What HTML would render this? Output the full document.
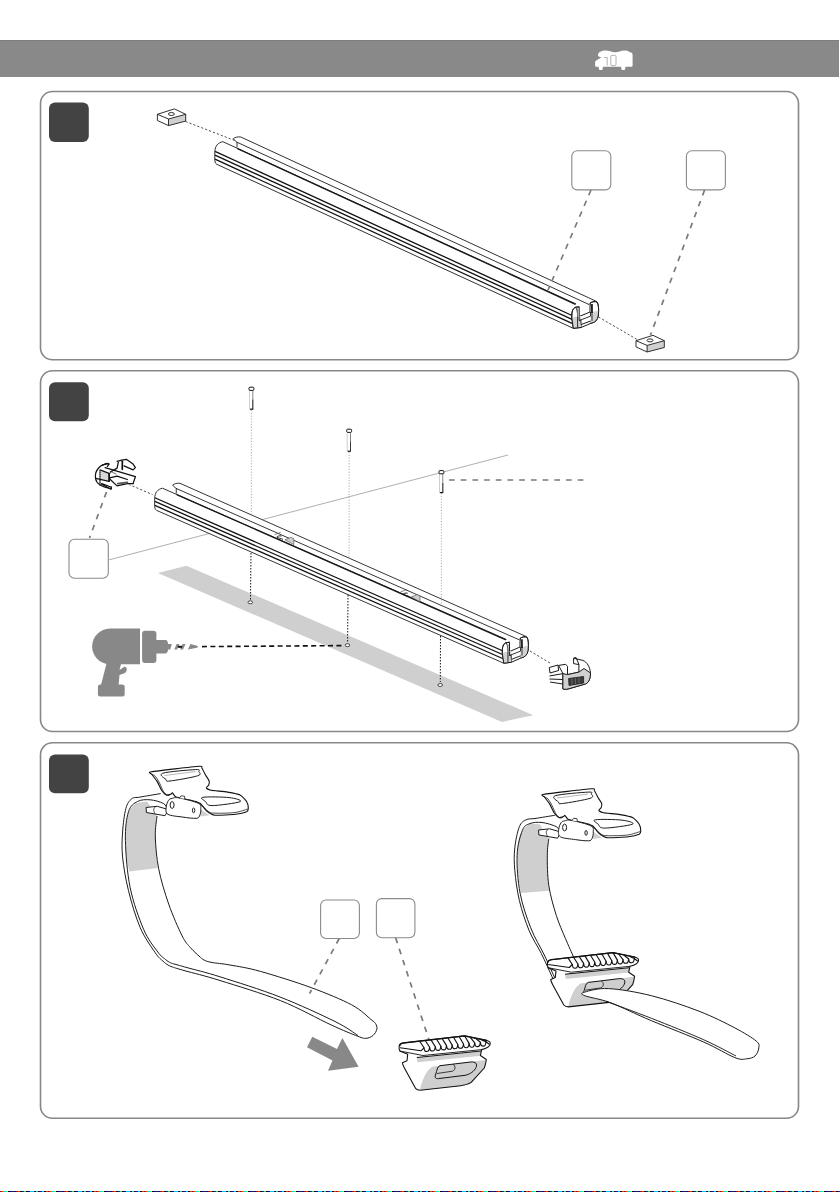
<!DOCTYPE html>
<html><head><meta charset="utf-8">
<style>
html,body{margin:0;padding:0;background:#fff;}
body{width:840px;height:1192px;overflow:hidden;position:relative;font-family:"Liberation Sans",sans-serif;}
svg{position:absolute;left:0;top:0;}
</style></head><body>
<svg width="840" height="1192" viewBox="0 0 840 1192">
<!-- header -->
<rect x="0" y="40" width="839" height="37" fill="#898989"/>
<rect x="0" y="40" width="839" height="1" fill="#7d7d7d"/>
<!-- camper -->
<path d="M598 55 C598 52 602 50.5 605 50.5 C609 50.5 612 52 615 52.3 C618 52.5 621 50.5 624 50.5 L627.5 50.8 C629 51.5 629 52.3 631 52.5 C632.3 52.7 632.6 54 632.6 55 L632.6 65.5 C632.6 66.5 632 66.8 631 66.8 L625.5 66.8 L625 69.5 C624.5 70.3 622 70.3 621.5 69.5 L621 66.8 L603 66.8 L602.5 69.5 C602 70.3 599.5 70.3 599 69.5 L598.5 66.8 L596.2 66.8 C595.4 66.8 595.1 66 595.1 65 L595.1 62.5 C595.1 61 596.5 60 598 59.5 L601.5 57.2 C599 57 598 56.5 598 55 Z" fill="#fff"/>
<path d="M604 57.6 L607.2 57.4 L607.2 65.6" fill="none" stroke="#9a9a9a" stroke-width="0.75"/><rect x="610.8" y="55.4" width="5.2" height="10.2" rx="1.2" fill="none" stroke="#9a9a9a" stroke-width="0.75"/>
<!-- panels -->
<g fill="none" stroke="#878787" stroke-width="1.6">
<rect x="40.5" y="91.5" width="758" height="268.3" rx="12"/>
<rect x="40.5" y="370.7" width="758" height="360.8" rx="12"/>
<rect x="40.5" y="742.8" width="758" height="375.5" rx="12"/>
</g>
<g fill="#434343">
<rect x="49" y="102.5" width="39.8" height="39.5" rx="6"/>
<rect x="49" y="382.2" width="39.8" height="39.1" rx="6"/>
<rect x="49" y="754.4" width="39.8" height="38.8" rx="6"/>
</g>
<!-- label boxes -->
<g fill="#fff" stroke="#8a8a8a" stroke-width="1.1">
<rect x="571.8" y="150.7" width="39" height="39.2" rx="5.5"/>
<rect x="686.4" y="150.7" width="39" height="39.2" rx="5.5"/>
<rect x="69" y="539.3" width="39.3" height="39" rx="5.5"/>
<rect x="320.6" y="900" width="38.8" height="38.5" rx="5.5"/>
<rect x="376.4" y="898.6" width="38.5" height="39.1" rx="5.5"/>
</g>

<!-- rail 1 -->
<defs>
<g id="rail">
<path d="M233.3 138.7 C235 137.2 238 136.6 240.8 137 L596.7 301.5 C598.6 304 599 310 598.2 316 C597.6 320 595 322.6 591.2 323.2 L581 327.5 L573.3 328.3 L218.3 165 C216 164.3 215 163 214.8 160 L214.8 152 C215 146 218 142.5 222.9 141.7 Z" fill="#fff"/>
<g fill="none" stroke="#1a1a1a" stroke-width="0.9">
<path d="M222.9 141.7 C218 142.5 215 146 214.8 152 L214.8 160 C215 163 216 164.3 218.3 165 L573.3 328.3"/>
<path d="M222.9 141.7 L576 304"/>
<path d="M233.3 138.7 C235 137.2 238 136.6 240.8 137 L596.7 301.5"/>
<path d="M233.3 138.7 L236.5 142 L589 304.5"/>
<path d="M237 142 L237 147.5"/>
</g>
<g fill="none" stroke="#111" stroke-width="1.3">
<path d="M215 151.3 L572 315.5"/>
<path d="M215 155.1 L572 319.3"/>
<path d="M215 159.2 L572 323.4"/>
</g>
<path d="M237.5 148.6 L575.5 304.3" stroke="#1a1a1a" stroke-width="1.35" fill="none"/>
<path d="M573.3 328.3 L571.8 318 C571.6 312 572.5 308.5 575.5 307.3 L579.2 306.8 L579.2 316.5 L590 312 L590 303.2 C592 301.6 595 301.2 597 302 C598.6 304 599 310 598.2 316 C597.6 320 595 322.6 591.2 323.2 L591.2 320.8 L581 324.6 L581 327.5 Z" fill="#fff" stroke="#1a1a1a" stroke-width="1"/>
<path d="M571.9 317.5 L581 316 L581 327.5 L573.3 328.3 Z M590.5 312.5 L598.6 310.5 C598.4 313 598.2 315 598 316 C597.6 320 595 322.6 591.2 323.2 L590.5 321 Z" fill="#d2d2d2"/>
<path d="M573.3 328.3 L571.8 318 C571.6 312 572.5 308.5 575.5 307.3 L579.2 306.8 M590 303.2 C592 301.6 595 301.2 597 302 C598.6 304 599 310 598.2 316 C597.6 320 595 322.6 591.2 323.2 L581 327.5 L573.3 328.3" fill="none" stroke="#1a1a1a" stroke-width="1"/>
<path d="M575.5 307.3 C577 309 577.6 312 577.6 316.5 L577.6 327.6 M579.2 316.5 L579.2 320.5 L590.5 316.2 L590.5 312 M579.2 320.5 L581 320.2 L581 324.6 M590 303.2 C591.5 305 592 309 592 315.8 L592 320.8" fill="none" stroke="#1a1a1a" stroke-width="0.9"/>
<path d="M577.6 316.5 L577.6 308.5" stroke="#777" stroke-width="1"/>
<path d="M592 304 L592 313" stroke="#111" stroke-width="1.6"/>
</g>
</defs>
<use href="#rail"/>

<!-- nuts -->
<defs>
<g id="nut">
<path d="M157.4 114.3 L174.4 108.9 L185.7 114.3 L168.5 119 Z" fill="#fff"/>
<path d="M157.4 114.3 L168.5 119 L168.5 125.6 L157.4 120.5 Z" fill="#fff"/>
<path d="M168.5 119 L185.7 114.3 L185.7 121.1 L168.5 125.6 Z" fill="#d0d0d0"/>
<path d="M157.4 114.3 L174.4 108.9 L185.7 114.3 L185.7 121.1 L168.5 125.6 L157.4 120.5 Z M157.4 114.3 L168.5 119 L185.7 114.3 M168.5 119 L168.5 125.6" fill="none" stroke="#1a1a1a" stroke-width="0.9" stroke-linejoin="round"/>
<ellipse cx="171.4" cy="114" rx="3" ry="1.5" fill="none" stroke="#1a1a1a" stroke-width="0.9"/>
</g>
</defs>
<use href="#nut"/>
<use href="#nut" transform="translate(478.6 226.4) scale(1)"/>
<g fill="none" stroke="#222" stroke-width="0.8" stroke-dasharray="2.2 2">
<path d="M185.5 121.5 L236 141"/>
<path d="M598.5 317 L638 340"/>
</g>
<g fill="none" stroke="#7a7a7a" stroke-width="1.7" stroke-dasharray="5.7 6">
<path d="M591 190 L548 290"/>
<path d="M704.6 190 L650.5 335"/>
</g>
<!-- gray band -->
<polygon points="157.9,572.9 186.4,565.7 533.3,715.2 501.9,721.9" fill="#cfcfcf"/>

<!-- panel 2 -->
<path d="M108.5 560 L508 455" stroke="#9a9a9a" stroke-width="0.8" fill="none"/>
<use href="#rail" transform="matrix(0.9737 -0.0192 0.0003 0.9739 -54.55 354.5)"/>
<!-- slots -->
<defs><g id="slot">
<path d="M284.9 539.8 L290.8 537.4 L293.8 538.6 L293.8 544.5 Z" fill="#cfcfcf" stroke="#444" stroke-width="0.6"/>
<path d="M283 539.3 C280.5 538.6 278 538 277 537.2 C276.5 536.3 279 535.6 281.5 536" fill="none" stroke="#111" stroke-width="0.9"/>
<path d="M274.5 534.6 L278.5 533.2 L280.8 532.2" fill="none" stroke="#555" stroke-width="0.7"/>
</g></defs>
<use href="#slot"/>
<use href="#slot" transform="translate(126.2 57.2)"/>
<!-- screws -->
<defs>
<g id="screw">
<rect x="-2.2" y="2.5" width="4.2" height="19" fill="#fff"/>
<path d="M-1.9 3 L-1.9 21" stroke="#c8c8c8" stroke-width="0.9"/>
<path d="M1.4 3 L1.4 21.5" stroke="#777" stroke-width="0.9"/>
<path d="M1.4 12 L1.4 21.5" stroke="#333" stroke-width="0.9"/>
<path d="M-1.6 21.6 L1.8 21.6" stroke="#111" stroke-width="1.2"/>
<rect x="-2.4" y="-0.4" width="4.9" height="3.2" rx="1" fill="#fff" stroke="#111" stroke-width="1"/>
</g>
</defs>
<use href="#screw" transform="translate(251.4 387.6)"/>
<use href="#screw" transform="translate(349.1 429.6)"/>
<use href="#screw" transform="translate(441.4 471)"/>
<g fill="none" stroke="#9a9a9a" stroke-width="0.8" stroke-dasharray="1.2 1.6">
<path d="M251.4 410 L251.4 514"/>
<path d="M349.1 452 L349.1 559"/>
<path d="M441.4 493 L441.4 604"/>
</g>
<g fill="none" stroke="#111" stroke-width="1" stroke-dasharray="1.5 1.5">
<path d="M251 553 L250.5 600"/>
<path d="M348 595 L347.6 642"/>
<path d="M440.5 636 L440.3 682"/>
</g>
<g fill="#fff" stroke="#222" stroke-width="0.8">
<ellipse cx="250.3" cy="602.3" rx="2.3" ry="1.5"/>
<ellipse cx="347.5" cy="645.2" rx="2.3" ry="1.5"/>
<ellipse cx="440.2" cy="685" rx="2.3" ry="1.5"/>
</g>
<path d="M449 480 L585 480" stroke="#7a7a7a" stroke-width="1.7" stroke-dasharray="5.7 6" fill="none"/>
<path d="M106.5 492 L89.5 538" stroke="#7a7a7a" stroke-width="1.7" stroke-dasharray="5.7 6" fill="none"/>
<g fill="none" stroke="#222" stroke-width="0.8" stroke-dasharray="2.2 2">
<path d="M128.6 484.3 L152.5 494.6"/>
<path d="M530 651 L550 663"/>
</g>
<!-- end cap 1 -->
<g stroke="#111" stroke-width="1.25" fill="none" stroke-linejoin="round" stroke-linecap="round">
<path d="M108.6 463.6 L117.1 461.3 L126.3 459.3 L133.1 464.1 L135.4 467.6 L135.4 476.7 L133.1 483.6 L127.4 485 L117.1 486.8 L111.4 488.7 C104 488.5 98 485.5 96 480 C94.5 475 96 469 100.6 465.9 Z" fill="#fff" stroke="none"/>
<path d="M101 471 L108.5 474 L108.5 480.5 L101 479 Z" fill="#d8d8d8" stroke="none"/>
<path d="M108.6 463.6 C104 464 101 465 98.6 468 C96 471 95.2 474 95.4 477 C95.5 480 96.5 483 100.6 485.3 C103 486.8 106 487.8 111.4 488.7"/>
<path d="M100.6 470.1 L109.7 473.6 M95.8 478.4 L109.1 481.3 M101.7 483.6 L110.9 487"/>
<path d="M109.1 474 L109.1 481" stroke-width="1.8"/>
<path d="M100 470 L100 485" stroke-dasharray="1 1"/>
<path d="M102 465.3 L106.9 463.3 L109.1 464.1 L107.4 466.4"/>
<path d="M105.1 467.6 L135.4 476.7 L133.1 483.6"/>
<path d="M117.1 461.3 L121.7 460.1 L126.3 459.3 L133.1 464.1 L135.4 467.6 L133.1 469.9 L124 465.9"/>
<path d="M122.3 461.3 L122.3 469.3" stroke-width="1.7"/>
<path d="M118.3 462.4 L117.1 468.1 L110.3 472.1"/>
<path d="M109.7 477.9 L117.1 476.1 L127.4 479.5 M109.7 479 L117.1 485.9 L127.4 483.6 L133.1 483.6"/>
<path d="M117.7 483.6 L127.4 482.4" stroke="#555" stroke-width="1.6"/>
<path d="M101.7 484.1 L110.9 489.3 L111.4 487"/>
<path d="M112 472 L116 474" stroke="#888" stroke-width="1.2"/>
</g>
<!-- end cap 2 -->
<g stroke="#1a1a1a" stroke-width="1" stroke-linejoin="round">
<path d="M562.9 673.6 L562.9 688.9 C564 689.5 566 689.4 568 689 L585.7 683.9 C589 682.5 590.5 678 590.5 673 C590 667 587 662 582.9 660.4 L577 659 L573.6 658.2 L573.6 663.6 L578.9 664.6 L578.9 672.1 L567.5 674.6 L567.5 666.4 L565.7 664.3 L558.6 665.4 Z" fill="#fff"/>
<path d="M562.9 673.6 L567.5 674.6 L578.9 672.1 L584 668.5 L590.5 673 C590.5 678 589 682.5 585.7 683.9 L568 689 C566 689.4 564 689.5 562.9 688.9 Z" fill="#d0d0d0"/>
<path d="M568.6 678.5 L583.6 676.5 L583.6 683 L569 685.5 Z" fill="#3a3a3a" stroke-width="0.8"/><path d="M572 678.5 L572 684.5 M575.5 678 L575.5 684 M579 677.5 L579 683.5" stroke="#888" stroke-width="0.6"/>
<path d="M549.3 667.5 L558 665 L558.6 670.5 L550 673 Z M549.5 676 L562.9 673.6 M549.5 679 L562.9 679.5 M550 682 L562.9 684" fill="#fff"/>
<path d="M573.6 658.2 L576 657.5 L579 664.6" fill="none"/>
</g>
<!-- drill -->
<g fill="#888">
<path d="M110 628.6 L140 628.6 L140 664.3 L110 664.3 C100 664.3 92.1 656 92.1 646.5 C92.1 637 100 628.6 110 628.6 Z"/>
<rect x="142.1" y="630.7" width="14.3" height="32.2" rx="3"/>
<path d="M155 640 L165.5 640 C167 640 168 641.5 168 643.9 L171.8 643.9 L170.2 649.6 L168 649.6 C168 652 167 653.4 165.5 653.4 L155 653.4 Z"/>
<path d="M106.4 664 L121 664 L119.5 670 L124 667 C127 666 128 671 125 673 L119.5 675 L118.6 685 L101 685 Z"/>
<rect x="97.9" y="684.5" width="26.8" height="11.9" rx="2.5"/>
<path d="M174.3 649.6 L176.6 643.9 L179.4 643.9 L177.1 649.6 Z M180 649.6 L182.6 643.9 L185.6 643.9 L183 649.6 Z"/>
<path d="M187.9 649.6 L190.4 643.9 L197 645.8 C198.2 646.3 198.2 647.3 197 647.8 Z"/>
</g>
<path d="M177.9 646.8 L182.1 646.8" stroke="#111" stroke-width="2"/>
<line x1="202" y1="646.6" x2="343" y2="645.6" stroke="#111" stroke-width="1.6" stroke-dasharray="5 3.4"/>

<!--P3START-->
<defs>
<g id="buckle">
<path d="M151.4 771.8 C156.1 771.0 194.0 766.7 199.0 766.3 C204.0 765.9 201.2 767.1 201.8 768.0 C202.5 768.9 204.8 773.7 205.5 775.0 C206.2 776.3 208.9 780.0 209.2 781.0 C209.5 782.0 208.9 784.5 208.6 785.2 C208.3 785.9 206.1 787.3 206.3 787.8 C206.5 788.3 208.9 789.9 211.0 790.3 C213.1 790.7 224.6 791.6 227.5 792.1 C230.4 792.6 238.1 794.0 240.0 795.0 C241.9 796.0 245.9 800.4 246.7 801.7 C247.5 803.0 248.3 807.3 248.3 808.3 C248.3 809.3 247.9 811.1 246.7 811.7 C245.4 812.3 239.0 813.9 235.8 814.2 C232.6 814.6 217.9 815.5 215.0 815.2 C212.1 814.9 208.2 812.2 206.7 811.0 C205.2 809.8 201.7 804.4 200.0 803.3 C198.3 802.2 192.4 800.6 190.0 800.0 C187.6 799.4 177.8 797.7 176.0 797.0 C174.2 796.3 173.0 793.2 172.5 792.9 C172.0 792.6 171.3 794.0 170.7 794.2 C170.1 794.4 167.3 795.4 166.4 795.0 C165.5 794.6 162.3 791.4 161.4 790.0 C160.5 788.6 158.1 783.0 157.1 781.4 C156.1 779.8 152.4 775.3 151.8 774.3 C151.2 773.3 146.7 772.6 151.4 771.8 Z" fill="#fff" stroke="#111" stroke-width="1.1" stroke-linejoin="round"/>
<path d="M151.8 774.3 C152.4 774.7 154.2 775.0 155.5 776.5 C156.8 778.0 158.2 780.5 159.5 783.0 C160.8 785.5 162.1 789.4 163.5 791.5 C164.9 793.6 166.5 795.3 168.0 795.5 C169.5 795.7 171.8 793.3 172.5 792.9" fill="none" stroke="#1a1a1a" stroke-width="0.8"/>
<path d="M162.9 773.2 C167.8 771.6 189.7 769.9 195.7 769.6 C201.7 769.3 198.5 770.5 198.8 771.5 C199.1 772.5 202.4 774.2 197.6 775.8 C192.8 777.4 175.3 780.4 170.0 781.0 C164.7 781.6 167.2 780.8 166.0 779.5 C164.8 778.2 158.0 774.9 162.9 773.2 Z" fill="#fff" stroke="#1c1c1c" stroke-width="1"/>
<path d="M164.5 775.5 L195.5 771.6" stroke="#999" stroke-width="0.7"/>
<path d="M203.0 797.3 C206.9 796.6 223.0 796.9 229.2 797.6 C235.4 798.3 242.9 800.4 240.0 801.7 C237.1 803.0 217.8 805.6 212.0 805.6 C206.2 805.6 207.0 802.9 205.5 801.5 C204.0 800.1 199.1 797.9 203.0 797.3 Z" fill="#fff" stroke="#1c1c1c" stroke-width="1"/>
<path d="M196.0 801.5 C197.2 802.3 200.8 804.8 203.0 806.5 C205.2 808.2 206.8 810.9 209.0 812.0 C211.2 813.1 211.7 813.1 216.0 813.2 C220.3 813.3 229.7 813.2 235.0 812.5 C240.3 811.8 245.7 809.6 247.8 809.0" fill="none" stroke="#1a1a1a" stroke-width="0.8"/>
<path d="M201 809.5 L209.5 815.2 L200.5 816.5 Z" fill="#d0d0d0"/>
<path d="M146.1 807.5 L157.1 806.3 L167.5 809.3 L167.5 811.4 L165 815.7 L146.4 812.5 Z" fill="#fff" stroke="#1c1c1c" stroke-width="1" stroke-linejoin="round"/>
<path d="M155.5 807 C153 808 153.5 811.5 155 813.5" fill="none" stroke="#1a1a1a" stroke-width="0.8"/>
<path d="M168.6 800.2 C169.6 798.8 170.3 798.8 172.0 798.4 C173.7 798.0 174.5 797.1 178.9 797.9 C183.3 798.7 194.7 801.4 198.3 803.3 C202.0 805.2 200.6 807.1 200.8 809.2 C201.0 811.3 200.3 814.5 199.5 816.0 C198.7 817.5 198.8 818.1 196.0 818.3 C193.2 818.5 187.6 817.8 182.9 817.1 C178.2 816.4 170.7 816.0 167.9 814.3 C165.1 812.6 166.1 809.4 166.2 807.0 C166.3 804.6 167.6 801.6 168.6 800.2 Z" fill="#fff" stroke="#1c1c1c" stroke-width="1" stroke-linejoin="round"/>
<ellipse cx="172.1" cy="805" rx="2" ry="3.4" fill="#fff" stroke="#1c1c1c" stroke-width="1"/>
<ellipse cx="193.6" cy="810.4" rx="1.2" ry="2.4" fill="#fff" stroke="#1c1c1c" stroke-width="1"/>
<path d="M179.5 798 L181 795.8 L184.5 796.2 L184.8 799" fill="#fff" stroke="#1a1a1a" stroke-width="0.8"/>
</g>
</defs>
<g id="strap1">
<path d="M160.7 793.6 C156.1 791.6 144.8 796.2 140.0 797.1 C135.2 798.0 134.0 796.9 131.7 798.8 C129.3 800.7 127.4 803.0 125.9 808.5 C124.4 814.0 123.1 823.9 122.6 832.0 C122.0 840.1 121.6 847.3 122.6 857.1 C123.6 866.9 125.6 879.0 128.5 890.7 C131.4 902.5 135.7 917.2 140.2 927.6 C144.7 938.0 151.5 947.2 155.3 952.8 C159.1 958.4 160.9 959.2 163.0 961.2 C165.1 963.2 166.4 964.0 168.0 965.0 C169.6 966.0 169.7 966.0 172.5 967.0 C175.3 968.0 177.1 968.5 185.0 970.8 C192.9 973.0 204.1 975.5 220.0 980.5 C235.9 985.5 262.1 993.3 280.7 1000.7 C299.2 1008.1 318.5 1019.1 331.3 1025.0 C344.1 1030.9 351.9 1034.0 357.7 1036.2 C363.5 1038.4 363.4 1038.4 366.0 1038.3 C368.6 1038.2 371.2 1037.0 373.0 1035.5 C374.8 1034.0 376.5 1031.1 376.9 1029.1 C377.3 1027.1 376.5 1025.1 375.5 1023.5 C374.5 1021.9 375.0 1022.6 371.0 1019.5 C367.0 1016.4 361.6 1010.1 351.6 1004.8 C341.6 999.5 326.3 993.2 311.1 987.6 C295.9 982.0 274.0 975.2 260.5 971.4 C247.0 967.6 238.1 966.5 230.0 965.0 C221.9 963.5 216.3 963.3 212.0 962.5 C207.7 961.7 206.2 961.1 204.0 960.0 C201.8 958.9 201.2 958.0 199.0 956.0 C196.8 954.0 193.4 951.1 190.6 947.8 C187.8 944.5 185.8 943.3 182.2 936.0 C178.5 928.7 172.6 915.3 168.7 904.1 C164.8 892.9 160.9 880.1 158.7 868.9 C156.5 857.7 155.6 845.8 155.3 837.0 C155.0 828.2 156.2 820.2 157.0 816.0 C157.8 811.8 158.2 813.1 160.0 812.0 C161.8 810.9 167.4 812.4 167.5 809.3 C167.6 806.2 165.3 795.6 160.7 793.6 Z" fill="#fff" stroke="none"/>
<path d="M136 803 L147 801.5 L157 816 C155.5 826 155 835 155.3 840 C155.8 850 156.5 860 157.8 868 L129.3 871.4 C126.5 860 125.5 850 125.4 840.4 C125.5 825 127 815 131 808 Z" fill="#cfcfcf"/>
<path d="M160.7 793.6 C157.2 794.2 144.8 796.2 140.0 797.1 C135.2 798.0 134.0 796.9 131.7 798.8 C129.3 800.7 127.4 803.0 125.9 808.5 C124.4 814.0 123.1 823.9 122.6 832.0 C122.0 840.1 121.6 847.3 122.6 857.1 C123.6 866.9 125.6 879.0 128.5 890.7 C131.4 902.5 135.7 917.2 140.2 927.6 C144.7 938.0 151.5 947.2 155.3 952.8 C159.1 958.4 160.9 959.2 163.0 961.2 C165.1 963.2 166.4 964.0 168.0 965.0 C169.6 966.0 169.7 966.0 172.5 967.0 C175.3 968.0 177.1 968.5 185.0 970.8 C192.9 973.0 204.1 975.5 220.0 980.5 C235.9 985.5 262.1 993.3 280.7 1000.7 C299.2 1008.1 318.5 1019.1 331.3 1025.0 C344.1 1030.9 351.9 1034.0 357.7 1036.2 C363.5 1038.4 363.4 1038.4 366.0 1038.3 C368.6 1038.2 371.2 1037.0 373.0 1035.5 C374.8 1034.0 376.5 1031.1 376.9 1029.1 C377.3 1027.1 376.5 1025.1 375.5 1023.5 C374.5 1021.9 371.8 1020.2 371.0 1019.5" fill="none" stroke="#1c1c1c" stroke-width="1"/>
<path d="M371.0 1019.5 C367.8 1017.0 361.6 1010.1 351.6 1004.8 C341.6 999.5 326.3 993.2 311.1 987.6 C295.9 982.0 274.0 975.2 260.5 971.4 C247.0 967.6 238.1 966.5 230.0 965.0 C221.9 963.5 216.3 963.3 212.0 962.5 C207.7 961.7 206.2 961.1 204.0 960.0 C201.8 958.9 201.2 958.0 199.0 956.0 C196.8 954.0 193.4 951.1 190.6 947.8 C187.8 944.5 185.8 943.3 182.2 936.0 C178.5 928.7 172.6 915.3 168.7 904.1 C164.8 892.9 160.9 880.1 158.7 868.9 C156.5 857.7 155.6 845.8 155.3 837.0 C155.0 828.2 156.7 819.5 157.0 816.0" fill="none" stroke="#1c1c1c" stroke-width="1"/>
<path d="M167.5 809.3 C166.8 808.3 166.4 805.1 163.5 803.5 C160.6 801.9 154.3 800.1 150.0 799.8 C145.7 799.5 141.1 799.5 137.5 801.5 C133.9 803.5 130.5 805.3 128.5 811.8 C126.5 818.3 125.1 827.8 125.4 840.4 C125.7 853.0 127.1 872.5 130.1 887.3 C133.1 902.1 139.0 918.5 143.6 929.3 C148.2 940.1 154.2 947.0 157.8 952.0 C161.5 957.0 163.4 957.7 165.5 959.5 C167.6 961.3 168.9 962.0 170.5 962.8 C172.1 963.6 172.2 963.4 175.0 964.2 C177.8 965.0 179.5 965.5 187.0 967.6 C194.5 969.7 204.5 971.9 220.0 976.8 C235.5 981.7 260.8 989.5 280.0 997.0 C299.2 1004.5 322.0 1015.1 335.0 1021.5 C348.0 1027.9 354.2 1033.2 358.0 1035.5" fill="none" stroke="#1c1c1c" stroke-width="1"/>
</g>
<use href="#buckle"/>
<g fill="none" stroke="#7a7a7a" stroke-width="1.7" stroke-dasharray="5.7 6">
<path d="M339.2 938.5 L309.6 993.5"/>
<path d="M395.6 937.7 L428.8 1039.3"/>
</g>
<path d="M307 1047.2 L312.3 1036.7 L337 1049 L342.4 1038 L358.6 1066.8 L328 1070.7 L332.5 1060.5 Z" fill="#888"/>

<defs><g id="cleat">
<path d="M399.2 1045.7 C399.5 1044 401 1043.3 403.1 1043 L464.6 1035.9 L486.9 1040.5 C489 1041 490.5 1042.5 490.2 1044 C490 1046.5 486 1048.5 481.7 1049.6 L480.4 1055.5 L486.3 1059.5 C486 1062 485.5 1065 484.3 1068 L471.2 1082.4 C468 1084.5 464 1085.3 460.7 1085.7 L420.1 1090.2 C418 1090.2 416.5 1089.5 415.5 1088.3 L404.4 1068 C403.3 1066 402.5 1064 402.4 1062.7 L407 1060.8 L407.7 1054.2 L399.8 1051 C399 1049.5 399 1047.5 399.2 1045.7 Z" fill="#fff"/>
<path d="M416.8 1057.5 L481 1051 L481 1055.7 L417.5 1062.3 Z" fill="#cfcfcf"/>
<path d="M431.9 1066.7 L485.6 1060.1 C485.5 1063 485 1065.5 484.3 1068 L471.2 1082.4 C468 1084.5 464 1085.3 460.7 1085.7 L420.1 1090.2 C420.5 1085 424 1076 428 1070.6 Z" fill="#cfcfcf"/>
<path d="M481.7 1049.6 L423 1055.5 L399.8 1051" fill="none" stroke="#111" stroke-width="0.9"/>
<path d="M399.2 1045.7 C399.5 1044 401 1043.3 403.1 1043 L464.6 1035.9 L486.9 1040.5 C489 1041 490.5 1042.5 490.2 1044 C490 1046.5 486 1048.5 481.7 1049.6 L480.4 1055.5 L486.3 1059.5 C486 1062 485.5 1065 484.3 1068 L471.2 1082.4 C468 1084.5 464 1085.3 460.7 1085.7 L420.1 1090.2 C418 1090.2 416.5 1089.5 415.5 1088.3 L404.4 1068 C403.3 1066 402.5 1064 402.4 1062.7 L407 1060.8 L407.7 1054.2 L399.8 1051 C399 1049.5 399 1047.5 399.2 1045.7 Z" fill="none" stroke="#111" stroke-width="1.1" stroke-linejoin="round"/>
<path d="M416.8 1057.5 L481 1051" stroke="#111" stroke-width="1"/>
<path d="M440 1065.7 L470.5 1062 C476 1061.5 477.5 1064 476 1067.5 C474.5 1071 470 1074.5 465 1075.3 L438.5 1078.6 C435 1079 434.5 1077 435.8 1074 C437 1071 437 1066.5 440 1065.7 Z" fill="#cfcfcf" stroke="#111" stroke-width="1"/>
<path d="M453 1064.3 C456 1066 455.5 1070 452.5 1071.2 L437 1073.5" fill="none" stroke="#111" stroke-width="0.8"/>
<path d="M420.0 1041.7 L424.0 1047.8 M425.6 1041.0 L429.6 1047.3 M431.3 1040.4 L435.3 1046.7 M436.9 1039.7 L440.9 1046.2 M442.5 1039.1 L446.5 1045.6 M448.2 1038.5 L452.2 1045.1 M453.8 1037.8 L457.8 1044.5 M459.5 1037.2 L463.5 1044.0 M465.1 1036.7 L469.1 1043.4 M470.7 1037.8 L474.7 1042.9 M476.4 1039.0 L480.4 1042.3 M482.0 1040.1 L486.0 1041.8" stroke="#111" stroke-width="1.15" fill="none" stroke-linecap="round"/>
<path d="M400 1047.8 L421 1050.8 L424.0 1047.8 C424.6 1051.0 424.8 1051.5 426.8 1051.5 C428.8 1051.5 429.0 1050.5 429.6 1047.3 C430.2 1050.5 430.5 1051.0 432.5 1051.0 C434.5 1051.0 434.7 1049.9 435.3 1046.7 C435.9 1049.9 436.1 1050.4 438.1 1050.4 C440.1 1050.4 440.3 1049.4 440.9 1046.2 C441.5 1049.4 441.7 1049.9 443.7 1049.9 C445.7 1049.9 445.9 1048.8 446.5 1045.6 C447.1 1048.8 447.4 1049.3 449.4 1049.3 C451.4 1049.3 451.6 1048.3 452.2 1045.1 C452.8 1048.3 453.0 1048.8 455.0 1048.8 C457.0 1048.8 457.2 1047.7 457.8 1044.5 C458.4 1047.7 458.6 1048.3 460.6 1048.3 C462.6 1048.3 462.9 1047.2 463.5 1044.0 C464.1 1047.2 464.3 1047.7 466.3 1047.7 C468.3 1047.7 468.5 1046.6 469.1 1043.4 C469.7 1046.6 469.9 1047.2 471.9 1047.2 C473.9 1047.2 474.1 1046.1 474.7 1042.9 C475.3 1046.1 475.5 1046.6 477.5 1046.6 C479.5 1046.6 479.8 1045.5 480.4 1042.3 C481.0 1045.5 481.2 1046.1 483.2 1046.1 C485.2 1046.1 485.4 1045.0 486.0 1041.8 L489.5 1044.5" stroke="#111" stroke-width="1.1" fill="none" stroke-linejoin="round"/>
<path d="M399.5 1046 C400 1043.8 401.5 1043.2 403.1 1043 L464.6 1035.9 L486.9 1040.5" stroke="#111" stroke-width="1.3" fill="none"/>
</g></defs>
<use href="#cleat"/>
<path d="M554.8 815.3 C551.3 813.7 539.8 817.8 535.0 818.5 C530.2 819.2 528.7 818.4 526.1 819.8 C523.5 821.1 521.3 821.9 519.4 826.6 C517.5 831.3 515.6 840.5 514.8 847.8 C514.0 855.1 514.0 861.6 514.8 870.4 C515.6 879.2 517.0 890.5 519.4 900.6 C521.8 910.7 525.6 922.0 529.2 930.8 C532.9 939.6 537.5 945.9 541.3 953.5 C545.1 961.1 549.0 970.1 551.8 976.2 C554.6 982.3 554.0 988.5 557.9 990.0 C561.8 991.5 572.4 990.5 575.0 985.0 C577.6 979.5 575.3 965.1 573.7 957.3 C572.1 949.5 568.3 945.3 565.4 938.4 C562.5 931.5 559.2 924.5 556.4 915.7 C553.6 906.9 550.3 895.6 548.8 885.5 C547.3 875.4 547.3 863.1 547.3 855.3 C547.3 847.5 548.0 842.6 548.8 838.7 C549.6 834.8 550.8 833.8 552.0 832.0 C553.2 830.2 555.5 830.8 556.0 828.0 C556.5 825.2 558.3 816.9 554.8 815.3 Z" fill="#fff"/>
<path d="M529 823.8 L539.7 824.2 L548.8 838.7 C547.6 850 547.2 858 547.3 863 C547.5 872 548 882 549.6 890.8 L520.9 893.1 C518.2 880 517.2 868 517.1 855.3 C517.5 843 519 835 522.4 830.4 Z" fill="#cfcfcf"/>
<path d="M554.8 815.3 C551.5 815.8 539.8 817.8 535.0 818.5 C530.2 819.2 528.7 818.4 526.1 819.8 C523.5 821.1 521.3 821.9 519.4 826.6 C517.5 831.3 515.6 840.5 514.8 847.8 C514.0 855.1 514.0 861.6 514.8 870.4 C515.6 879.2 517.0 890.5 519.4 900.6 C521.8 910.7 525.6 922.0 529.2 930.8 C532.9 939.6 537.5 945.9 541.3 953.5 C545.1 961.1 549.0 970.1 551.8 976.2 C554.6 982.3 556.9 987.7 557.9 990.0" fill="none" stroke="#1c1c1c" stroke-width="1"/>
<path d="M560.0 831.5 C559.3 830.7 559.0 828.0 556.0 826.5 C553.0 825.0 546.4 823.0 542.0 822.5 C537.6 822.0 533.2 822.3 529.9 823.6 C526.6 824.9 524.5 825.1 522.4 830.4 C520.3 835.7 517.5 844.8 517.1 855.3 C516.7 865.8 517.8 881.0 520.1 893.1 C522.4 905.2 526.7 917.5 530.7 927.8 C534.7 938.1 540.5 947.2 544.3 955.0 C548.1 962.8 551.4 970.7 553.3 974.7 C555.2 978.7 555.1 978.3 555.5 979.0" fill="none" stroke="#1c1c1c" stroke-width="1"/>
<path d="M573.7 957.3 C572.3 954.1 568.3 945.3 565.4 938.4 C562.5 931.5 559.2 924.5 556.4 915.7 C553.6 906.9 550.3 895.6 548.8 885.5 C547.3 875.4 547.3 863.1 547.3 855.3 C547.3 847.5 548.5 841.5 548.8 838.7" fill="none" stroke="#1c1c1c" stroke-width="1"/>
<use href="#buckle" transform="translate(392.5 22.5)"/>
<use href="#cleat" transform="translate(148.3 -83.3)"/>
<path d="M584.8 992.1 C588.8 990.9 597.5 988.0 608.6 988.6 C619.7 989.2 636.3 991.9 651.4 995.7 C666.5 999.5 685.1 1005.8 699.0 1011.2 C712.9 1016.6 725.3 1022.9 734.8 1027.9 C744.3 1032.9 752.2 1037.7 756.2 1041.0 C760.2 1044.3 759.0 1045.5 758.8 1048.0 C758.6 1050.5 757.0 1054.2 755.0 1056.0 C753.0 1057.8 750.1 1058.5 746.7 1058.8 C743.3 1059.1 741.9 1060.4 734.8 1057.6 C727.6 1054.8 717.7 1048.2 703.8 1042.1 C689.9 1035.9 666.9 1027.2 651.4 1020.7 C635.9 1014.2 622.1 1007.1 611.0 1002.9 C599.9 998.7 589.2 997.5 584.8 995.7 C580.4 993.9 580.8 993.3 584.8 992.1 Z" fill="#fff" stroke="#1c1c1c" stroke-width="1" stroke-linejoin="round"/>
<path d="M606.0 1001.3 C613.6 1004.1 635.1 1011.9 651.4 1018.3 C667.7 1024.7 689.7 1033.5 703.8 1039.8 C717.9 1046.1 730.6 1053.3 736.0 1056.0" fill="none" stroke="#111" stroke-width="0.9"/>

<!--P3END-->
</svg>
<div style="position:absolute;left:0;top:1191px;width:840px;height:1px;background:repeating-linear-gradient(90deg,#b00020 0px 2px,#ff6a00 2px 4px,#00c8ff 4px 6px,#40ff80 6px 8px,#000 8px 10px,#0a0a6e 10px 12px,#2a1a9a 12px 14px,#0a0a6e 14px 16px,#b00020 16px 18px,#d04000 18px 20px,#000 20px 22px,#2a1a9a 22px 24px,#18e070 24px 26px,#000 26px 28px,#0a0a6e 28px 30px,#00c8ff 30px 32px,#00c8ff 32px 34px,#0a0a6e 34px 36px,#18e070 36px 38px,#0a0a6e 38px 40px,#2a1a9a 40px 42px,#00c8ff 42px 44px,#000 44px 46px,#d04000 46px 48px);"></div>
</body></html>
